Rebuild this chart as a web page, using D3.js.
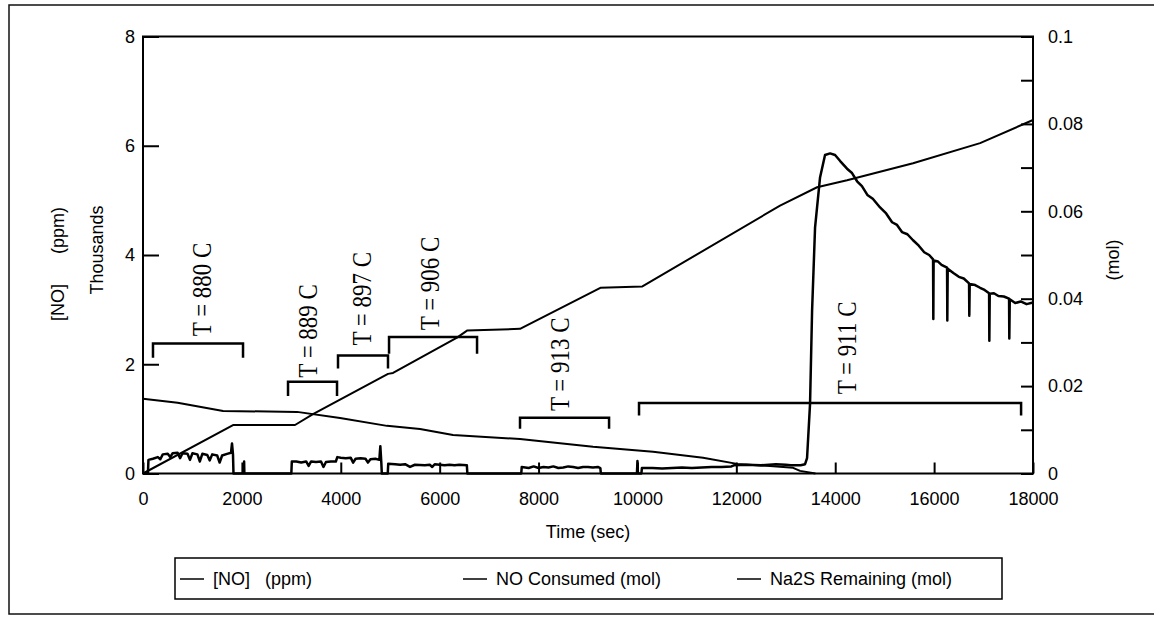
<!DOCTYPE html>
<html>
<head>
<meta charset="utf-8">
<script src="https://cdn.jsdelivr.net/npm/d3@7"></script>
<style>
    body { margin: 0; background: #fff; }
    svg { display: block; font-family: "Liberation Sans", Arial, sans-serif; }
    .axis path { display: none; }
    .axis line { stroke: #000; stroke-width: 2; }
    .axis text { font-size: 18px; fill: #000; font-family: "Liberation Sans", Arial, sans-serif; }
    .serie { fill: none; stroke: #000; stroke-linejoin: round; }
    .bracket { fill: none; stroke: #000; stroke-width: 2.5; }
    .temp { font-family: "Liberation Serif", "Times New Roman", serif; font-size: 23px; }
    .title { font-size: 18px; white-space: pre; }
</style>
</head>
<body>
<svg id="chart" width="1154" height="619"></svg>
<script>
    // tick values
    var xTicks = [0, 2000, 4000, 6000, 8000, 10000, 12000, 14000, 16000, 18000];
    var leftTicks = [0, 2, 4, 6, 8];
    var rightTicks = [0, 0.01, 0.02, 0.03, 0.04, 0.05, 0.06, 0.07, 0.08, 0.09, 0.1];

    // [NO] in thousands of ppm, [time, value]
    var noPpm = [
        [0, 0], [100, 0], [110, 0.25], [200, 0.27], [300, 0.3], [350, 0.26], [400, 0.35], [500, 0.36],
        [550, 0.3], [600, 0.37], [700, 0.38], [750, 0.28], [800, 0.37], [900, 0.36], [950, 0.25],
        [1000, 0.37], [1100, 0.35], [1150, 0.22], [1200, 0.36], [1300, 0.34], [1350, 0.24], [1400, 0.35],
        [1500, 0.33], [1550, 0.2], [1600, 0.33], [1700, 0.36], [1780, 0.38], [1800, 0.55], [1820, 0.35],
        [1830, 0], [2040, 0], [2045, 0.22], [2050, 0],
        [3000, 0], [3010, 0.22], [3100, 0.22], [3200, 0.2], [3300, 0.22], [3350, 0.14], [3400, 0.22],
        [3500, 0.21], [3600, 0.22], [3650, 0.12], [3700, 0.21], [3800, 0.22], [3900, 0.22], [3930, 0.3],
        [4000, 0.29], [4100, 0.28], [4200, 0.29], [4250, 0.2], [4300, 0.27], [4400, 0.28], [4500, 0.27],
        [4550, 0.2], [4600, 0.26], [4700, 0.27], [4780, 0.25], [4800, 0.5], [4820, 0.2], [4830, 0],
        [4950, 0], [4960, 0.18], [5100, 0.17], [5200, 0.16], [5300, 0.17], [5400, 0.12], [5500, 0.16],
        [5700, 0.15], [5800, 0.16], [5850, 0.12], [5900, 0.17], [6000, 0.16], [6100, 0.15], [6200, 0.16],
        [6300, 0.15], [6400, 0.16], [6550, 0.15], [6560, 0],
        [7650, 0], [7660, 0.12], [7800, 0.1], [7900, 0.13], [8000, 0.1], [8100, 0.12], [8200, 0.11],
        [8300, 0.13], [8400, 0.1], [8500, 0.11], [8600, 0.13], [8700, 0.12], [8800, 0.1], [8900, 0.12],
        [9000, 0.12], [9100, 0.11], [9200, 0.12], [9250, 0.1], [9260, 0],
        [9990, 0], [10000, 0.23], [10010, 0], [10080, 0], [10090, 0.1], [10300, 0.1], [10500, 0.09],
        [10700, 0.1], [10900, 0.11], [11100, 0.1], [11300, 0.11], [11500, 0.12], [11700, 0.12],
        [11900, 0.13], [11950, 0.15], [12200, 0.16], [12500, 0.15], [12800, 0.17], [13000, 0.16],
        [13100, 0.15], [13300, 0.15], [13390, 0.17], [13430, 0.28], [13491, 1.28], [13532, 2.98],
        [13592, 4.5], [13693, 5.42], [13794, 5.83], [13896, 5.86], [13997, 5.83], [14100, 5.72],
        [14239, 5.58], [14340, 5.5], [14442, 5.35], [14540, 5.26], [14650, 5.1], [14760, 5.03],
        [14907, 4.87], [15030, 4.76], [15150, 4.6], [15250, 4.55], [15350, 4.42], [15460, 4.38],
        [15574, 4.27], [15690, 4.17], [15800, 4.05], [15900, 4.0], [15979, 3.92], [15984, 2.83],
        [15990, 3.9], [16080, 3.88], [16150, 3.82], [16262, 3.77], [16267, 2.8], [16275, 3.75],
        [16390, 3.67], [16500, 3.6], [16600, 3.57], [16707, 3.48], [16712, 2.89], [16720, 3.47],
        [16830, 3.45], [16930, 3.4], [17020, 3.36], [17112, 3.3], [17117, 2.43], [17125, 3.29],
        [17210, 3.3], [17300, 3.25], [17410, 3.24], [17516, 3.2], [17521, 2.47], [17530, 3.19],
        [17640, 3.12], [17750, 3.15], [17870, 3.1], [18000, 3.13]
    ];

    // NO consumed, mol
    var noConsumed = [
        [0, 0], [1830, 0.0111], [3074, 0.0111], [3438, 0.0136], [4955, 0.0228], [5057, 0.023],
        [6351, 0.0311], [6553, 0.0327], [7625, 0.0331], [9250, 0.0425], [10100, 0.0428],
        [12884, 0.0613], [13633, 0.0655], [14239, 0.0671], [15574, 0.071], [16930, 0.0756], [18000, 0.0809]
    ];

    // Na2S remaining, mol
    var na2sRemaining = [
        [0, 0.0171], [700, 0.0162], [1620, 0.0143], [3115, 0.0141], [3985, 0.0127], [4935, 0.0109],
        [5603, 0.0102], [6270, 0.0088], [7625, 0.0079], [9102, 0.0061], [10316, 0.005], [11327, 0.0036],
        [12015, 0.0022], [12682, 0.0017], [13148, 0.0013], [13289, 0.0006], [13600, 0]
    ];

    // temperature periods
    var tempLabels = ["T = 880 C", "T = 889 C", "T = 897 C", "T = 906 C", "T = 913 C", "T = 911 C"];
    var tempStart = [202, 2933, 3944, 4976, 7625, 10032];
    var tempEnd = [2023, 3924, 4955, 6756, 9426, 17759];
    var bracketTop = [2.38, 1.68, 2.16, 2.5, 1.02, 1.29];
    var bracketLeg = [2.12, 1.42, 1.92, 2.19, 0.82, 1.06];
    var labelAt = [[1193, 3.37], [3337, 2.61], [4430, 3.2], [5805, 3.48], [8434, 2.0], [14239, 2.3]];

    var seriesNames = ["[NO]   (ppm)", "NO Consumed (mol)", "Na2S Remaining (mol)"];

    (function () {
        var svg = d3.select("#chart");
        var pLeft = 143, pRight = 1033, pTop = 36.5, pBottom = 473.5;

        var x = d3.scaleLinear().domain([0, 18000]).range([pLeft, pRight]);
        var yL = d3.scaleLinear().domain([0, 8]).range([pBottom, pTop]);
        var yR = d3.scaleLinear().domain([0, 0.1]).range([pBottom, pTop]);

        // outer frame (right side runs past the picture)
        svg.append("rect")
            .attr("x", 9).attr("y", 5).attr("width", 1150).attr("height", 609)
            .attr("fill", "none").attr("stroke", "#111").attr("stroke-width", 1.5);

        // axes
        svg.append("g")
            .attr("class", "axis")
            .attr("transform", "translate(0," + pBottom + ")")
            .call(d3.axisBottom(x).tickValues(xTicks).tickFormat(d3.format("d"))
                .tickSizeInner(-11).tickSizeOuter(0).tickPadding(19));

        svg.append("g")
            .attr("class", "axis")
            .attr("transform", "translate(" + pLeft + ",0)")
            .call(d3.axisLeft(yL).tickValues(leftTicks).tickSizeInner(-16).tickSizeOuter(0).tickPadding(8));

        svg.append("g")
            .attr("class", "axis")
            .attr("transform", "translate(" + pRight + ",0)")
            .call(d3.axisRight(yR).tickValues(rightTicks).tickSizeInner(-12).tickSizeOuter(0).tickPadding(15)
                .tickFormat(function (d) {
                    return Math.round(d * 100) % 2 === 0 ? d3.format("~g")(d) : "";
                }));

        svg.append("rect")
            .attr("x", pLeft).attr("y", pTop)
            .attr("width", pRight - pLeft).attr("height", pBottom - pTop)
            .attr("fill", "none").attr("stroke", "#000").attr("stroke-width", 2);

        // series
        var lineL = d3.line()
            .x(function (d) { return x(d[0]); })
            .y(function (d) { return yL(d[1]); });
        var lineR = d3.line()
            .x(function (d) { return x(d[0]); })
            .y(function (d) { return yR(d[1]); });

        svg.append("path").attr("class", "serie").attr("stroke-width", 2).attr("d", lineR(na2sRemaining));
        svg.append("path").attr("class", "serie").attr("stroke-width", 2).attr("d", lineR(noConsumed));
        svg.append("path").attr("class", "serie").attr("stroke-width", 2.5).attr("d", lineL(noPpm));

        // temperature brackets
        tempLabels.forEach(function (label, i) {
            svg.append("path")
                .attr("class", "bracket")
                .attr("d", "M" + x(tempStart[i]) + "," + yL(bracketLeg[i]) +
                    "V" + yL(bracketTop[i]) + "H" + x(tempEnd[i]) + "V" + yL(bracketLeg[i]));

            svg.append("text")
                .attr("class", "temp")
                .attr("transform", "translate(" + x(labelAt[i][0]) + "," + yL(labelAt[i][1]) + ") rotate(-90) scale(1,1.15)")
                .attr("text-anchor", "middle")
                .attr("dy", "0.35em")
                .text(label);
        });

        // axis titles
        svg.append("text").attr("class", "title")
            .attr("transform", "translate(58,264) rotate(-90)")
            .attr("text-anchor", "middle").attr("dy", "0.35em")
            .text("[NO]      (ppm)");
        svg.append("text").attr("class", "title")
            .attr("transform", "translate(97,250) rotate(-90)")
            .attr("text-anchor", "middle").attr("dy", "0.35em")
            .text("Thousands");
        svg.append("text").attr("class", "title")
            .attr("transform", "translate(1113,260) rotate(-90)")
            .attr("text-anchor", "middle").attr("dy", "0.35em")
            .text("(mol)");
        svg.append("text").attr("class", "title")
            .attr("x", 588).attr("y", 538)
            .attr("text-anchor", "middle")
            .text("Time (sec)");

        // legend
        svg.append("rect")
            .attr("x", 175).attr("y", 558).attr("width", 827).attr("height", 41)
            .attr("fill", "none").attr("stroke", "#000").attr("stroke-width", 1.5);

        var legendX = [180, 463, 737];
        seriesNames.forEach(function (name, i) {
            svg.append("line")
                .attr("x1", legendX[i]).attr("x2", legendX[i] + 24)
                .attr("y1", 579).attr("y2", 579)
                .attr("stroke", "#000").attr("stroke-width", 1.5);
            svg.append("text").attr("class", "title")
                .attr("x", legendX[i] + 33).attr("y", 585)
                .text(name);
        });
    })();
</script>
</body>
</html>
